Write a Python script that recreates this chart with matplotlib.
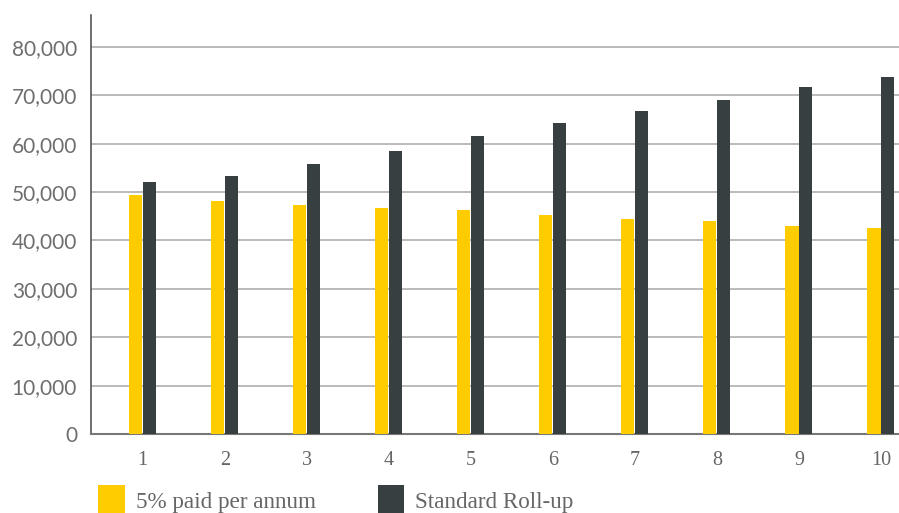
import numpy as np
import matplotlib
matplotlib.use('Agg')
import matplotlib.pyplot as plt

# Data
years = [1, 2, 3, 4, 5, 6, 7, 8, 9, 10]
paid_per_annum = [49300, 48200, 47400, 46750, 46300, 45300, 44400, 44000, 42950, 42500]
standard_rollup = [52000, 53300, 55800, 58550, 61500, 64250, 66800, 69100, 71650, 73750]
yticks = [0, 10000, 20000, 30000, 40000, 50000, 60000, 70000, 80000]

yellow = '#FFCC00'
dark = '#373F40'

fig = plt.figure(figsize=(8.99, 5.13), dpi=100)
ax = fig.add_axes([91 / 899, 1 - 434 / 513, 1 - 91 / 899, (434 - 15) / 513])

x = np.array(years)
w = 0.16
b1 = ax.bar(x - 0.085, paid_per_annum, width=w, color=yellow, zorder=3,
            label='5% paid per annum')
b2 = ax.bar(x + 0.085, standard_rollup, width=w, color=dark, zorder=3,
            label='Standard Roll-up')

ax.set_xlim(0.37, 10.22)
ax.set_ylim(0, 86600)
ax.set_yticks(yticks)
ax.set_yticklabels([f'{v:,}' for v in yticks])
ax.set_xticks(years)
ax.set_xticklabels([str(y) for y in years])

# gridlines (skip the zero line, the axis sits there)
for v in yticks[1:]:
    ax.axhline(v, color='#A8A8A8', linewidth=1.1, zorder=1)

for s in ['top', 'right']:
    ax.spines[s].set_visible(False)
ax.spines['left'].set_color('#555555')
ax.spines['left'].set_linewidth(1.2)
ax.spines['bottom'].set_color('#777777')
ax.spines['bottom'].set_linewidth(1.5)

ax.tick_params(axis='both', length=0)
ax.tick_params(axis='y', pad=10, labelsize=15, labelcolor='#6E6E6E')
ax.tick_params(axis='x', pad=12, labelsize=14.5, labelcolor='#666666')
for lab in ax.get_yticklabels():
    lab.set_family('Lato')
for lab in ax.get_xticklabels():
    lab.set_family('Liberation Serif')

leg = fig.legend(handles=[b1, b2], loc='lower left', ncol=2,
                 bbox_to_anchor=(98 / 899, -2 / 513), frameon=False,
                 prop={'family': 'Liberation Serif', 'size': 16.7},
                 handlelength=1.15, handleheight=1.6, handletextpad=0.47,
                 columnspacing=2.68, borderpad=0, borderaxespad=0)
for t in leg.get_texts():
    t.set_color('#666666')

fig.savefig('out.png', dpi=100)
